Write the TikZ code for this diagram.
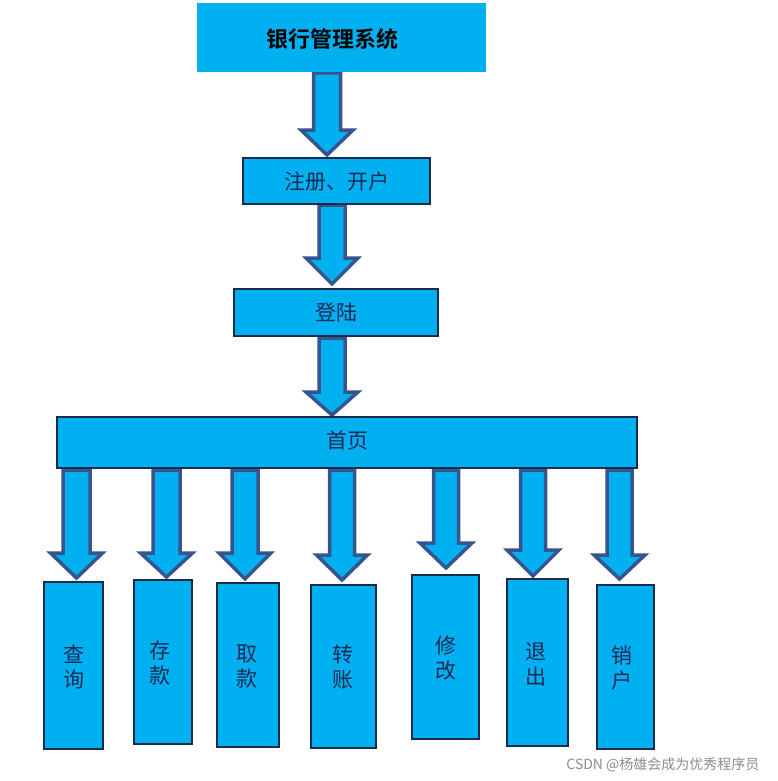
\documentclass[tikz,border=0pt]{standalone}
\usepackage{fontspec}
\newfontfamily\cjk{Noto Sans CJK SC}
\newfontfamily\cjkb{Noto Sans CJK SC Bold}
\definecolor{boxfill}{HTML}{00B0F0}
\definecolor{arrowline}{HTML}{36558E}
\definecolor{boxline}{HTML}{1A2A4A}
\definecolor{txt}{HTML}{1A2A55}
\tikzset{
  plainbox/.style={fill=boxfill, draw=boxline, line width=1.1pt, inner sep=0pt},
  topbox/.style={fill=boxfill, draw=none, inner sep=0pt},
  blockarr/.style={fill=boxfill, draw=arrowline, line width=3.5pt, line join=miter},
  boxtext/.style={font=\cjk\fontsize{21}{25}\selectfont, text=txt, align=center},
}
% \barrow{cx}{ytop}{yhead}{ytip}{shaft half width}{head half width}
\newcommand\barrow[6]{%
  \draw[blockarr] (#1-#5,#2) -- (#1+#5,#2) -- (#1+#5,#3) -- (#1+#6,#3) -- (#1,#4)
     -- (#1-#6,#3) -- (#1-#5,#3) -- cycle;}
\begin{document}
\begin{tikzpicture}[x=1pt,y=-1pt]
\useasboundingbox (0,0) rectangle (777,781);
% arrows first (behind boxes)
\barrow{327}{73}{130}{155}{13.5}{26}
\barrow{332}{205}{258}{284}{13}{26}
\barrow{332}{338}{392}{415}{13}{26}
\barrow{76.5}{470}{553}{578}{13.5}{26}
\barrow{166.5}{470}{553}{577}{13.5}{26}
\barrow{245}{470}{553}{579}{13}{26}
\barrow{342}{470}{555}{580}{12.5}{25.5}
\barrow{446}{470}{543}{568}{12.5}{26}
\barrow{533}{470}{550}{576}{12.5}{26}
\barrow{619.5}{470}{555}{579}{12.5}{25.5}
% boxes
\path[topbox] (197,3) rectangle (486,72);
\node[font=\cjkb\fontsize{22}{24}\selectfont, text=black] (sys) at (332,39) {银行管理系统};
\path[plainbox] (243,158) rectangle (430,204);
\node[boxtext] (reg) at (336.5,182) {注册、开户};
\path[plainbox] (234,289) rectangle (438,336);
\node[boxtext] (login) at (336,313) {登陆};
\path[plainbox] (57,417) rectangle (637,468);
\node[boxtext] (home) at (347,441) {首页};
% bottom boxes
\path[plainbox] (44,582) rectangle (103,749);
\node[boxtext] (q) at (73.5,667) {查\\询};
\path[plainbox] (134,580) rectangle (192,744);
\node[boxtext] (d) at (160,663) {存\\款};
\path[plainbox] (217,583) rectangle (279,747);
\node[boxtext] (w) at (246.5,667) {取\\款};
\path[plainbox] (311,585) rectangle (376,748);
\node[boxtext] (t) at (343,667) {转\\账};
\path[plainbox] (412,575) rectangle (479,739);
\node[boxtext] (m) at (446,658) {修\\改};
\path[plainbox] (507,579) rectangle (568,746);
\node[boxtext] (e) at (536,664) {退\\出};
\path[plainbox] (597,585) rectangle (654,749);
\node[boxtext] (c) at (622,668) {销\\户};
% watermark
\node[font=\cjk\fontsize{14}{16}\selectfont, text=black!45, anchor=east] (wm) at (763,765) {CSDN @杨雄会成为优秀程序员};
\end{tikzpicture}
\end{document}
